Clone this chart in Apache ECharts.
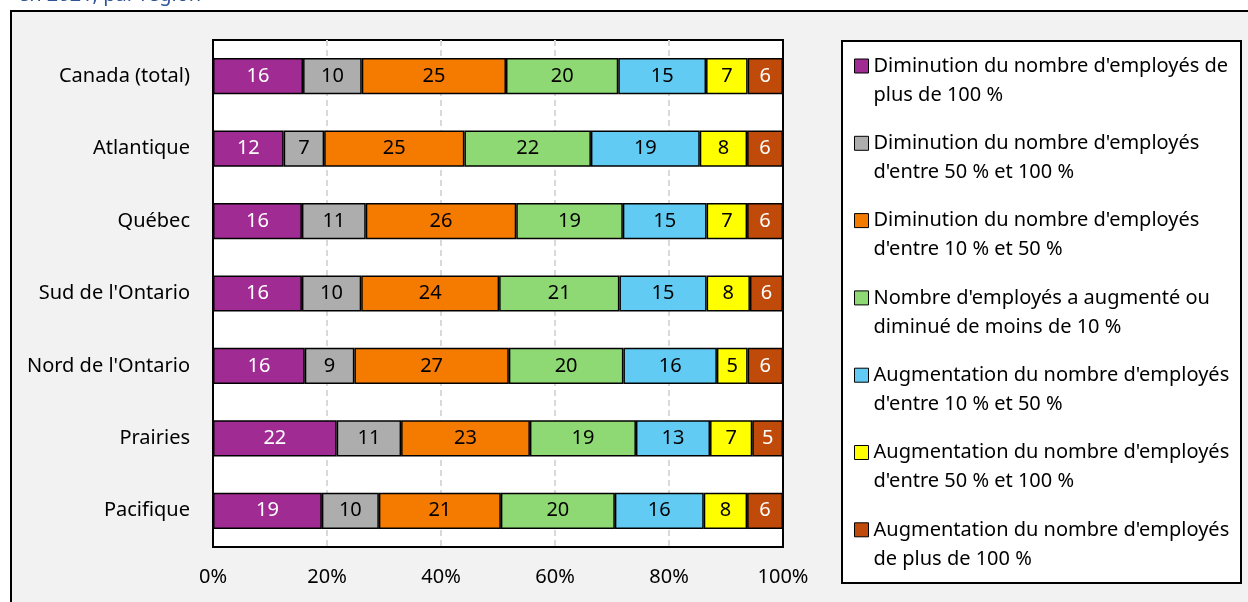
<!DOCTYPE html>
<html>
<head>
<meta charset="utf-8">
<script src="https://cdn.jsdelivr.net/npm/echarts@6/dist/echarts.min.js"></script>
<style>
  html, body { margin: 0; padding: 0; background: #fff; }
  #chart { width: 1248px; height: 602px; }
</style>
</head>
<body>
<div id="chart"></div>
<script>
// regions, top to bottom
const categories = ['Canada (total)', 'Atlantique', 'Québec', "Sud de l'Ontario", "Nord de l'Ontario", 'Prairies', 'Pacifique']

// share of businesses (%) per change in employee count
const diminPlus100 = [15.8, 12.4, 15.6, 15.6, 16.1, 21.7, 19.1]
const dimin50a100 = [10.3, 7.1, 11.2, 10.4, 8.7, 11.3, 10.0]
const dimin10a50 = [25.3, 24.6, 26.4, 24.2, 27.1, 22.6, 21.4]
const moins10 = [19.7, 22.2, 18.7, 21.1, 20.1, 18.6, 20.0]
const augm10a50 = [15.4, 19.1, 14.7, 15.3, 16.4, 13.0, 15.6]
const augm50a100 = [7.3, 8.3, 7.1, 7.6, 5.4, 7.4, 7.6]
const augmPlus100 = [6.2, 6.3, 6.3, 5.8, 6.2, 5.4, 6.3]

const xTicks = [0, 20, 40, 60, 80, 100]

const seriesDefs = [
  { name: "Diminution du nombre d'employés de\nplus de 100 %", data: diminPlus100, color: '#A02B93', text: '#fff' },
  { name: "Diminution du nombre d'employés\nd'entre 50 % et 100 %", data: dimin50a100, color: '#ADADAD', text: '#000' },
  { name: "Diminution du nombre d'employés\nd'entre 10 % et 50 %", data: dimin10a50, color: '#F57A00', text: '#000' },
  { name: "Nombre d'employés a augmenté ou\ndiminué de moins de 10 %", data: moins10, color: '#8ED973', text: '#000' },
  { name: "Augmentation du nombre d'employés\nd'entre 10 % et 50 %", data: augm10a50, color: '#61CBF3', text: '#000' },
  { name: "Augmentation du nombre d'employés\nd'entre 50 % et 100 %", data: augm50a100, color: '#FFFF00', text: '#000' },
  { name: "Augmentation du nombre d'employés\nde plus de 100 %", data: augmPlus100, color: '#C04A0A', text: '#fff' }
]

const font = "'Noto Sans', sans-serif"

// square sitting at the top of a taller icon box, so it lines up with the first text line
const legendIcon = 'path://M0,0H14V14H0Z M14,43'

const chart = echarts.init(document.getElementById('chart'))
chart.setOption({
  animation: false,
  textStyle: { fontFamily: font },
  title: {
    text: 'en 2021, par région',
    left: 13,
    top: -20,
    textStyle: { color: '#2F5597', fontSize: 20, fontWeight: 'normal', fontFamily: font }
  },
  graphic: [
    {
      type: 'rect',
      z: -10,
      shape: { x: 11, y: 11, width: 1300, height: 700 },
      style: { fill: '#F2F2F2', stroke: '#000', lineWidth: 2 }
    },
    {
      type: 'rect',
      z: -5,
      shape: { x: 842, y: 41, width: 399, height: 542 },
      style: { fill: '#fff', stroke: '#000', lineWidth: 2 }
    }
  ],
  grid: {
    left: 213,
    right: 465,
    top: 40,
    bottom: 55,
    show: true,
    backgroundColor: '#fff',
    borderColor: '#000',
    borderWidth: 2
  },
  legend: {
    orient: 'vertical',
    left: 854,
    top: 51.5,
    padding: 0,
    itemGap: 19.3,
    itemWidth: 14,
    itemHeight: 43,
    icon: legendIcon,
    itemStyle: { borderColor: '#000', borderWidth: 1 },
    textStyle: {
      fontSize: 20,
      lineHeight: 29,
      color: '#000',
      fontFamily: font
    },
    data: seriesDefs.map(s => s.name)
  },
  xAxis: {
    type: 'value',
    min: 0,
    max: 100,
    interval: 20,
    axisLine: { show: false },
    axisTick: { show: false },
    splitLine: {
      show: true,
      showMinLine: false,
      showMaxLine: false,
      lineStyle: { color: '#D9D9D9', width: 2, type: [6, 4] }
    },
    axisLabel: {
      margin: 20,
      fontSize: 20,
      color: '#000',
      formatter: v => (xTicks.includes(v) ? v + '%' : '')
    }
  },
  yAxis: {
    type: 'category',
    inverse: true,
    data: categories,
    axisLine: { show: false },
    axisTick: { show: false },
    axisLabel: { margin: 23, fontSize: 20, color: '#000' }
  },
  series: seriesDefs.map(s => ({
    name: s.name,
    type: 'bar',
    stack: 'total',
    barWidth: '50%',
    data: s.data,
    itemStyle: { color: s.color, borderColor: '#000', borderWidth: 1.5 },
    label: {
      show: true,
      position: 'inside',
      fontSize: 20,
      color: s.text,
      fontFamily: font,
      formatter: p => Math.round(p.value)
    }
  }))
})
</script>
</body>
</html>
